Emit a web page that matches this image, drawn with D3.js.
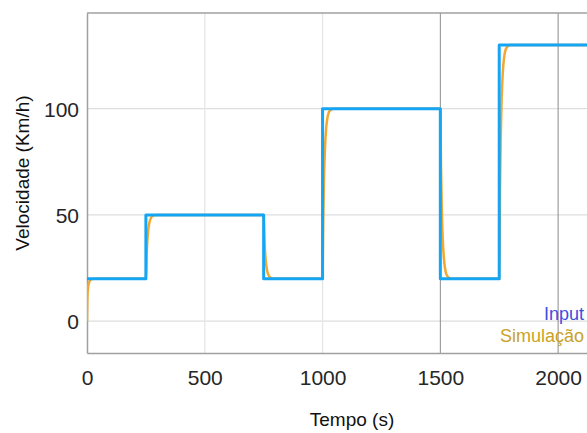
<!DOCTYPE html>
<html>
<head>
<meta charset="utf-8">
<script src="https://cdn.jsdelivr.net/npm/d3@7"></script>
<style>
  body { margin: 0; background: #fff; }
  svg { display: block; font-family: "Liberation Sans", Arial, sans-serif; }
</style>
</head>
<body>
<div id="chart"></div>
<script>
// Input (degraus): tempos e valores
const inputTime = [0, 250, 250, 750, 750, 1000, 1000, 1500, 1500, 1750, 1750, 2300];
const inputVel  = [20, 20, 50, 50, 20, 20, 100, 100, 20, 20, 130, 130];

// Simulação (resposta de 1a ordem)
const simTime = [
  0, 2, 5, 10, 15, 20, 30, 45,
  250, 253, 256, 260, 265, 270, 280, 295,
  750, 753, 756, 760, 765, 770, 780, 795,
  1000, 1003, 1006, 1010, 1015, 1020, 1030, 1045,
  1500, 1503, 1506, 1510, 1515, 1520, 1530, 1545,
  1750, 1753, 1756, 1760, 1765, 1770, 1780, 1795,
  2300
];
const simVel = [
  0, 12, 16, 18.5, 19.4, 19.8, 20, 20,
  20, 30.5, 37.4, 42.8, 46.4, 48.2, 49.6, 50,
  50, 39.5, 32.6, 27.2, 23.6, 21.8, 20.4, 20,
  20, 48, 66.4, 80.8, 90.4, 95.2, 98.9, 100,
  100, 72, 53.6, 39.2, 29.6, 24.8, 21.1, 20,
  20, 58.5, 83.8, 103.6, 116.8, 123.4, 128.5, 130,
  130
];

const xTicks = [0, 500, 1000, 1500, 2000];
const yTicks = [0, 50, 100];
const legendLabels = ["Input", "Simulação"];

const W = 587, H = 433;
const margin = { top: 13, left: 87 };
const plotW = 530, plotH = 340;

const svg = d3.select("#chart").append("svg")
  .attr("width", W)
  .attr("height", H);

const x = d3.scaleLinear().domain([0, 2250]).range([margin.left, margin.left + plotW]);
const y = d3.scaleLinear().domain([-15, 145]).range([margin.top + plotH, margin.top]);

svg.append("clipPath").attr("id", "clip")
  .append("rect")
  .attr("x", margin.left).attr("y", margin.top)
  .attr("width", plotW).attr("height", plotH);

// grade
const grid = svg.append("g");
grid.selectAll(".gy").data(yTicks).enter().append("line")
  .attr("x1", margin.left).attr("x2", margin.left + plotW)
  .attr("y1", d => y(d)).attr("y2", d => y(d))
  .attr("stroke", "#dedede").attr("stroke-width", 1.3);
grid.selectAll(".gx").data(xTicks.slice(1)).enter().append("line")
  .attr("x1", d => x(d)).attr("x2", d => x(d))
  .attr("y1", margin.top).attr("y2", margin.top + plotH)
  .attr("stroke", d => d >= 1500 ? "#8c8c8c" : "#e6e6e6")
  .attr("stroke-width", d => d >= 1500 ? 1 : 1.3);

// eixos
const xAxis = svg.append("g")
  .attr("transform", `translate(0,${margin.top + plotH})`)
  .call(d3.axisBottom(x).tickValues(xTicks).tickFormat(d3.format("d")).tickSize(0).tickPadding(17));
const yAxis = svg.append("g")
  .attr("transform", `translate(${margin.left},0)`)
  .call(d3.axisLeft(y).tickValues(yTicks).tickFormat(d3.format("d")).tickSize(0).tickPadding(8));

[xAxis, yAxis].forEach(a => {
  a.select(".domain").attr("stroke", "#a0a0a0").attr("stroke-width", 1.5);
  a.selectAll("text")
    .attr("fill", "#262626")
    .style("font-size", "21px")
    .style("font-family", "Liberation Sans, Arial, sans-serif");
});
xAxis.selectAll("text").attr("dy", "0.71em");
yAxis.selectAll("text").attr("dy", "0.36em");

// borda superior
svg.append("line")
  .attr("x1", margin.left).attr("x2", margin.left + plotW)
  .attr("y1", margin.top).attr("y2", margin.top)
  .attr("stroke", "#a0a0a0").attr("stroke-width", 1.5);

const line = d3.line().x(d => x(d[0])).y(d => y(d[1]));
const lines = svg.append("g").attr("clip-path", "url(#clip)");

lines.append("path")
  .datum(simTime.map((t, i) => [t, simVel[i]]))
  .attr("fill", "none")
  .attr("stroke", "#f2a830")
  .attr("stroke-width", 2.5)
  .attr("d", line.curve(d3.curveMonotoneX));

lines.append("path")
  .datum(inputTime.map((t, i) => [t, inputVel[i]]))
  .attr("fill", "none")
  .attr("stroke", "#14a5f5")
  .attr("stroke-width", 3)
  .attr("stroke-linejoin", "round")
  .attr("d", d3.line().x(d => x(d[0])).y(d => y(d[1])));

// legenda
const legendColors = ["#3a4fe0", "#c9a227"];
svg.selectAll(".leg").data(legendLabels).enter().append("text")
  .attr("x", 584)
  .attr("y", (d, i) => 320 + i * 22)
  .attr("text-anchor", "end")
  .attr("fill", (d, i) => legendColors[i])
  .style("font-size", "18px")
  .text(d => d);

// rótulos
svg.append("text")
  .attr("x", x(1125)).attr("y", 426)
  .attr("text-anchor", "middle")
  .attr("fill", "#111")
  .style("font-size", "19px")
  .text("Tempo (s)");

svg.append("text")
  .attr("transform", `translate(29,${margin.top + plotH / 2 - 10}) rotate(-90)`)
  .attr("text-anchor", "middle")
  .attr("fill", "#111")
  .style("font-size", "19px")
  .text("Velocidade (Km/h)");
</script>
</body>
</html>
